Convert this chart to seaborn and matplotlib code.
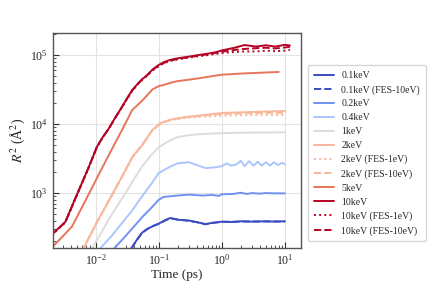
import matplotlib
matplotlib.use("Agg")
import matplotlib.pyplot as plt
import seaborn as sns
import pandas as pd

# time (ps) / R^2 (A^2)
t_01 = [0.037, 0.045, 0.054, 0.065, 0.08, 0.1, 0.13, 0.153, 0.2, 0.3, 0.45, 0.55, 0.7, 1.0, 1.5, 2.0, 3.0, 5.0, 7.0, 10.0]
r_01 = [160, 210, 265, 300, 330, 360, 410, 435, 410, 400, 370, 355, 370, 385, 380, 390, 385, 390, 385, 390]
r_01_fes10 = [158, 208, 262, 298, 332, 358, 405, 430, 415, 395, 372, 352, 368, 382, 384, 386, 388, 387, 389, 386]

t_02 = [0.02, 0.03, 0.042, 0.055, 0.075, 0.1, 0.12, 0.2, 0.3, 0.5, 0.7, 0.9, 1.0, 1.5, 2.0, 2.5, 3.0, 4.0, 5.0, 7.0, 10.0]
r_02 = [160, 240, 340, 450, 600, 800, 880, 920, 950, 920, 940, 910, 960, 970, 1010, 970, 1000, 980, 1000, 990, 990]

t_04 = [0.012, 0.018, 0.026, 0.038, 0.055, 0.075, 0.1, 0.15, 0.2, 0.3, 0.4, 0.55, 0.75, 1.0, 1.2, 1.4, 1.7,
        2.0, 2.3, 2.7, 3.2, 3.7, 4.3, 5.0, 5.8, 6.7, 7.8, 9.0, 10.0]
r_04 = [160, 240, 365, 560, 910, 1330, 1950, 2400, 2700, 2800, 2550, 2300, 2350, 2450, 2700, 2500, 2600,
        2950, 2450, 2900, 2500, 2850, 2500, 2800, 2500, 2800, 2550, 2750, 2600]

t_1 = [0.0085, 0.0125, 0.0185, 0.027, 0.038, 0.054, 0.075, 0.1, 0.14, 0.2, 0.3, 0.4, 0.6, 1.0, 2.0, 5.0, 10.0]
r_1 = [150, 275, 510, 870, 1450, 2400, 3500, 4600, 5600, 6500, 6900, 7100, 7250, 7400, 7500, 7550, 7600]

t_2 = [0.006, 0.0105, 0.016, 0.025, 0.038, 0.055, 0.08, 0.11, 0.16, 0.26, 0.5, 1.0, 2.0, 4.0, 10.0]
r_2 = [140, 380, 760, 1600, 3300, 5000, 8300, 10500, 11700, 12600, 13500, 14500, 14800, 15100, 15500]
r_2_fes1 = [140, 375, 750, 1580, 3250, 4950, 8200, 10300, 11500, 12300, 12800, 13200, 13400, 13500, 13500]
r_2_fes10 = [142, 382, 765, 1610, 3300, 5050, 8300, 10400, 11600, 12500, 13200, 14000, 14300, 14500, 14600]

t_5 = [0.002, 0.0042, 0.007, 0.0115, 0.018, 0.026, 0.038, 0.055, 0.065, 0.08, 0.1, 0.12, 0.15, 0.2, 0.3,
       0.42, 0.7, 1.0, 2.0, 4.0, 8.0]
r_5 = [160, 325, 800, 1950, 4300, 8100, 16000, 22000, 26000, 32000, 35500, 37000, 39500, 42000, 44000,
       46000, 49500, 52000, 54000, 55500, 57000]

t_10 = [0.002, 0.0033, 0.005, 0.0075, 0.0105, 0.013, 0.016, 0.02, 0.025, 0.03, 0.038, 0.046, 0.055, 0.065,
        0.08, 0.1, 0.12, 0.15, 0.2, 0.3, 0.42, 0.6, 0.8, 1.0, 1.6, 2.3, 3.5, 5.0, 7.0, 10.0, 12.0]
r_10 = [250, 380, 930, 2200, 4700, 6500, 8500, 12000, 16600, 22000, 31000, 38000, 45000, 51000,
        62000, 72000, 79000, 85000, 90000, 95000, 100000, 105000, 110000, 117000, 128000,
        140000, 133000, 139000, 133000, 141000, 138000]
r_10_fes1 = [245, 375, 920, 2180, 4650, 6450, 8400, 11900, 16400, 21700, 30500, 37500, 44000, 50000,
             60000, 69000, 76000, 82000, 87000, 92000, 96000, 100000, 104000, 107000, 111000,
             113000, 113000, 116000, 114000, 116000, 119000]
r_10_fes10 = [248, 378, 925, 2190, 4680, 6480, 8450, 11950, 16500, 21800, 30800, 37800, 44500, 50500,
              61000, 71000, 77000, 83000, 88000, 93000, 98000, 103000, 108000, 112000, 119000,
              123000, 126000, 128000, 125000, 129000, 132000]

labels = ["0.1keV", "0.1keV (FES-10eV)", "0.2keV", "0.4keV", "1keV", "2keV", "2keV (FES-1eV)",
          "2keV (FES-10eV)", "5keV", "10keV", "10keV (FES-1eV)", "10keV (FES-10eV)"]

cmap = plt.get_cmap("coolwarm")
c = [cmap(i / 6) for i in range(7)]

series = [
    (t_01, r_01, c[0], "-"),
    (t_01, r_01_fes10, c[0], "--"),
    (t_02, r_02, c[1], "-"),
    (t_04, r_04, c[2], "-"),
    (t_1, r_1, c[3], "-"),
    (t_2, r_2, c[4], "-"),
    (t_2, r_2_fes1, c[4], ":"),
    (t_2, r_2_fes10, c[4], "--"),
    (t_5, r_5, c[5], "-"),
    (t_10, r_10, c[6], "-"),
    (t_10, r_10_fes1, c[6], ":"),
    (t_10, r_10_fes10, c[6], "--"),
]

sns.set_style("white")
plt.rcParams["font.family"] = ["Liberation Serif", "DejaVu Serif"]
plt.rcParams["mathtext.fontset"] = "stix"

fig = plt.figure(figsize=(4.3, 2.86), dpi=100)
ax = fig.add_axes([0.123, 0.133, 0.577, 0.752])

for (t, r, col, ls), lab in zip(series, labels):
    df = pd.DataFrame({"t": t, "r": r})
    sns.lineplot(data=df, x="t", y="r", color=col, linestyle=ls, linewidth=1.4, label=lab, ax=ax)

ax.set_xscale("log")
ax.set_yscale("log")
ax.set_xlim(0.0021, 18)
ax.set_ylim(160, 2.1e5)
ax.grid(True, which="major", color="#e3e3e3", linewidth=0.8)
ax.tick_params(which="both", direction="in", bottom=True, left=True, top=False, right=False,
               labelsize=8.5, color="#333333")
ax.tick_params(which="major", length=4, width=0.8)
ax.tick_params(which="minor", length=2, width=0.6)
for s in ax.spines.values():
    s.set_color("#555555")
    s.set_linewidth(1.0)
ax.set_xlabel("Time (ps)", fontsize=9.5, labelpad=1)
ax.set_ylabel(r"$R^2$ (Å$^2$)", fontsize=10, labelpad=2)

ax.legend(loc="center left", bbox_to_anchor=(1.01, 0.44), fontsize=7, frameon=True,
          handlelength=2.0, labelspacing=0.5, borderpad=0.6)

fig.savefig("out.png", dpi=100)
